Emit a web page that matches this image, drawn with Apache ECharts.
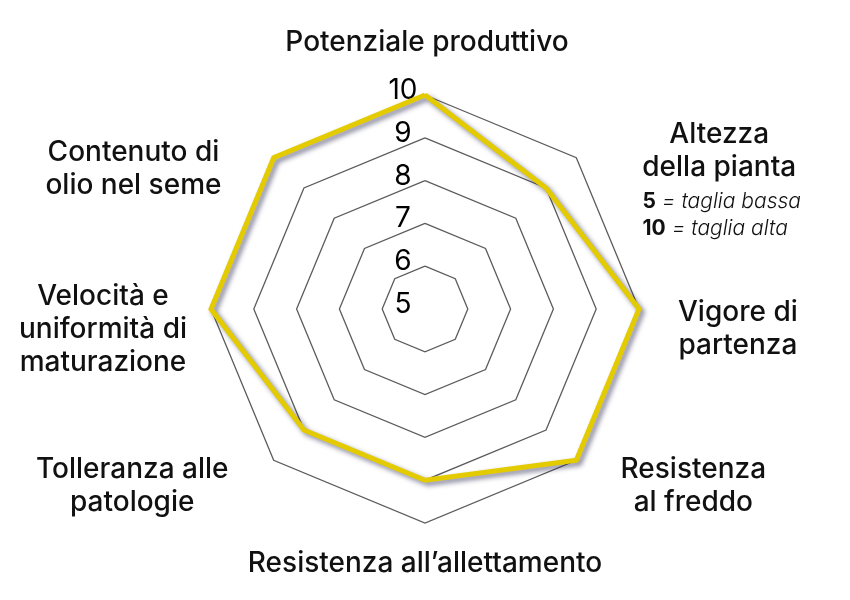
<!DOCTYPE html>
<html><head><meta charset="utf-8">
<script src="https://cdn.jsdelivr.net/npm/echarts@6/dist/echarts.min.js"></script>
<style>html,body{margin:0;padding:0;background:#fff}#c{width:850px;height:600px}</style>
</head><body><div id="c"></div>
<script>
// ---- data ----
const indicatorNames = [
  'Potenziale produttivo',
  'Contenuto di\nolio nel seme',
  'Velocità e\nuniformità di\nmaturazione',
  'Tolleranza alle\npatologie',
  'Resistenza all’allettamento',
  'Resistenza\nal freddo',
  'Vigore di\npartenza',
  'Altezza\ndella pianta'
];
const values = [10, 10, 10, 9, 9, 10, 10, 9];
const scaleMin = 5;
const scaleMax = 10;
const scaleNoteValues = ['5', '10'];
const scaleNoteTexts = [' = taglia bassa', ' = taglia alta'];

// ---- layout (label placement only) ----
const nameGaps = [36, 30, 24, 30, 24, 30, 39, 30];
const namePads = [
  [0, 0, 0, 4],
  [65, 31, 0, 0],
  [42, 0, 0, 0],
  [10, 24, 0, 0],
  [0, 0, 0, 0],
  [10, 0, 0, 23],
  [40, 0, 0, 0],
  [84, 0, 0, 40]
];

const FONT = 'Inter, "Noto Sans", sans-serif';
const chart = echarts.init(document.getElementById('c'), null, {renderer: 'canvas'});

const indicators = indicatorNames.map(function (name, i) {
  const ind = {
    name: name,
    min: scaleMin,
    max: scaleMax,
    nameGap: nameGaps[i],
    nameTextStyle: {padding: namePads[i]}
  };
  if (i === 0) {
    ind.axisLabel = {
      show: true,
      showMinLabel: true,
      showMaxLabel: true,
      color: '#000',
      fontSize: 28,
      fontFamily: FONT,
      fontWeight: 400,
      align: 'center',
      verticalAlign: 'bottom',
      lineHeight: 9,
      margin: 22
    };
  }
  return ind;
});

chart.setOption({
  backgroundColor: '#fff',
  animation: false,
  radar: {
    center: ['50%', 309],
    radius: 214,
    startAngle: 90,
    shape: 'polygon',
    splitNumber: 5,
    axisLine: {show: false},
    axisTick: {show: false},
    axisLabel: {show: false},
    splitArea: {show: false},
    splitLine: {lineStyle: {color: '#5c5c5c', width: 1.3}},
    axisName: {
      color: '#111',
      fontFamily: FONT,
      formatter: function (name) {
        const lines = name.split('\n').map(function (l) { return '{n|' + l + '}'; });
        if (name.indexOf('Altezza') === 0) {
          lines.push('{b1|' + scaleNoteValues[0] + '}{i1|' + scaleNoteTexts[0] + '}');
          lines.push('{b2|' + scaleNoteValues[1] + '}{i2|' + scaleNoteTexts[1] + '}');
        }
        return lines.join('\n');
      },
      rich: {
        n: {fontSize: 28, fontWeight: 500, lineHeight: 33, align: 'center', color: '#111', fontFamily: FONT},
        b1: {fontSize: 21, fontWeight: 700, lineHeight: 34, align: 'left', color: '#111', fontFamily: FONT, padding: [0, 0, 0, 5]},
        i1: {fontSize: 21, fontWeight: 300, fontStyle: 'italic', lineHeight: 34, align: 'left', color: '#111', fontFamily: FONT},
        b2: {fontSize: 21, fontWeight: 700, lineHeight: 20, align: 'left', color: '#111', fontFamily: FONT, padding: [0, 0, 0, 5]},
        i2: {fontSize: 21, fontWeight: 300, fontStyle: 'italic', lineHeight: 20, align: 'left', color: '#111', fontFamily: FONT}
      }
    },
    indicator: indicators
  },
  series: [{
    type: 'radar',
    symbol: 'none',
    silent: true,
    data: [{value: values}],
    lineStyle: {
      color: '#E3CB00',
      width: 5,
      join: 'miter',
      shadowColor: 'rgba(30,30,70,0.55)',
      shadowBlur: 5,
      shadowOffsetX: 3,
      shadowOffsetY: 3
    }
  }]
});
</script>
</body></html>
